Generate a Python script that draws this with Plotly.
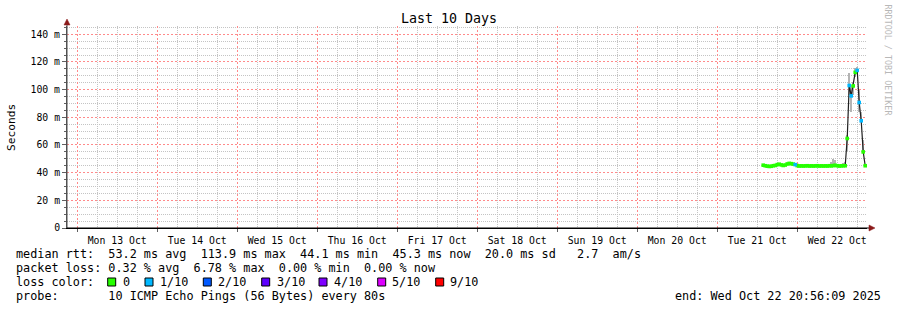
import plotly.graph_objects as go
import pandas as pd

# ---------------- data ----------------
title_text = "Last 10 Days"
end_time = "2025-10-22 20:56:09"
first_sample = "2025-10-21 13:48:00"
sample_step_min = 36

median_ms = [
    45.4, 45.0, 44.7, 44.5, 44.6, 45.0, 45.2, 45.8, 46.1, 45.6,
    45.2, 45.5, 46.3, 46.7, 46.5, 46.2, 45.8, 45.1, 44.8, 44.9,
    44.8, 44.9, 45.0, 44.8, 44.9, 44.8, 44.9, 45.0, 44.8, 44.9,
    44.8, 44.9, 44.8, 45.0, 44.9, 45.1, 45.3, 45.0, 44.8, 44.9,
    45.0,
    45.0, 64.7, 103.0, 95.5, 102.7, 112.5, 113.9, 90.7, 77.5, 55.0, 45.0,
]
loss_idx = [
    0, 0, 0, 0, 0, 0, 0, 0, 0, 0,
    0, 0, 0, 0, 0, 0, 1, 0, 0, 0,
    0, 0, 0, 0, 0, 0, 0, 0, 0, 0,
    0, 0, 0, 0, 0, 0, 0, 0, 0, 0,
    0,
    0, 0, 1, 1, 0, 0, 1, 1, 1, 0, 0,
]
smoke_lo = [
    44.6, 44.3, 44.0, 43.8, 43.9, 44.3, 44.5, 45.0, 45.3, 44.8,
    44.4, 44.7, 45.4, 45.8, 45.6, 45.3, 44.9, 44.3, 44.1, 44.2,
    44.1, 44.2, 44.3, 44.1, 44.2, 44.1, 44.2, 44.3, 44.1, 44.2,
    44.1, 44.2, 44.1, 44.3, 44.2, 44.3, 44.4, 44.2, 44.1, 44.2,
    44.2,
    44.0, 56.0, 96.0, 84.0, 96.0, 109.0, 113.0, 84.0, 76.7, 54.0, 44.0,
]
smoke_hi = [
    46.3, 46.0, 45.6, 45.4, 45.5, 45.9, 46.1, 46.7, 47.0, 46.5,
    46.1, 46.4, 47.2, 47.6, 47.4, 47.1, 46.7, 46.0, 45.7, 45.8,
    45.7, 45.8, 45.9, 45.7, 45.8, 45.7, 45.8, 45.9, 45.7, 45.8,
    45.7, 45.8, 45.8, 46.2, 47.5, 49.6, 48.8, 46.0, 45.7, 46.3,
    47.0,
    48.0, 67.0, 112.0, 103.0, 105.6, 115.5, 116.5, 99.6, 84.0, 63.5, 46.0,
]

loss_labels = ["0", "1/10", "2/10", "3/10", "4/10", "5/10", "9/10"]
loss_colors = ["#26ff00", "#00b8ff", "#0059ff", "#5e00ff", "#7e00ff", "#dd00ff", "#ff0000"]

day_labels = ["Mon 13 Oct", "Tue 14 Oct", "Wed 15 Oct", "Thu 16 Oct", "Fri 17 Oct",
              "Sat 18 Oct", "Sun 19 Oct", "Mon 20 Oct", "Tue 21 Oct", "Wed 22 Oct"]
first_label_day = "2025-10-13"

y_tickvals = [0, 20, 40, 60, 80, 100, 120, 140]
y_ticktext = ["0", "20 m", "40 m", "60 m", "80 m", "100 m", "120 m", "140 m"]

legend_line1 = "median rtt:  53.2 ms avg  113.9 ms max  44.1 ms min  45.3 ms now  20.0 ms sd   2.7  am/s"
legend_line2 = "packet loss: 0.32 % avg  6.78 % max  0.00 % min  0.00 % now"
legend_line3 = "loss color:"
legend_line4 = "probe:       10 ICMP Echo Pings (56 Bytes) every 80s"
end_label = "end: Wed Oct 22 20:56:09 2025"
watermark = "RRDTOOL / TOBI OETIKER"

# ---------------- geometry helpers (pixels -> paper) ----------------
L, R, T, B = 67, 867, 26, 228
W, H = R - L, B - T


def fx(px):
    return (px - L) / W


def fy(py):
    return (B - py) / H


def nb(s):
    return s.replace(" ", "\u00a0")


MONO = "DejaVu Sans Mono"
TXT = 11.8
MAJOR_GRID = "#ff8a8a"
MAJOR_DASH = "2px,2px"
MINOR_GRID = "#c4c4c4"
MINOR_DASH = "1px,1px"

end_ts = pd.Timestamp(end_time)
start_ts = end_ts - pd.Timedelta(days=10)
t0 = pd.Timestamp(first_sample)
times = [t0 + pd.Timedelta(minutes=sample_step_min * i) for i in range(len(median_ms))]

# tick / grid positions
d0 = pd.Timestamp(first_label_day)
midnights = [d0 + pd.Timedelta(days=i) for i in range(len(day_labels))]
noons = [m + pd.Timedelta(hours=12) for m in midnights]
day0 = start_ts.normalize()
minor_x = []
for d in range(12):
    for h in (6, 12, 18):
        tt = day0 + pd.Timedelta(days=d, hours=h)
        if start_ts <= tt <= end_ts:
            minor_x.append(tt)
minor_y = [v for v in range(5, 146, 5) if v % 20 != 0]

fig = go.Figure()

fig.add_trace(go.Bar(
    x=times,
    y=[h - l for h, l in zip(smoke_hi, smoke_lo)],
    base=smoke_lo,
    width=sample_step_min * 60 * 1000,
    marker=dict(color="#b4b4b4", line=dict(width=0)),
    hoverinfo="skip",
))
fig.add_trace(go.Scatter(
    x=times, y=median_ms, mode="lines",
    line=dict(color="#202020", width=1.2),
    hoverinfo="skip",
))
for k, col in enumerate(loss_colors):
    xs = [t for t, li in zip(times, loss_idx) if li == k]
    ys = [v for v, li in zip(median_ms, loss_idx) if li == k]
    if not xs:
        continue
    fig.add_trace(go.Scatter(
        x=xs, y=ys, mode="markers", xaxis="x2",
        marker=dict(symbol="square", size=3.6, color=col, line=dict(width=0)),
        hoverinfo="skip",
    ))

fig.update_layout(
    xaxis=dict(
        type="date",
        range=[start_ts, end_ts],
        tickmode="array", tickvals=midnights, showticklabels=False,
        ticks="outside", ticklen=3, tickcolor="#606060",
        showgrid=True, gridcolor=MAJOR_GRID, griddash=MAJOR_DASH, gridwidth=1,
        minor=dict(tickmode="array", tickvals=minor_x, showgrid=True,
                   gridcolor=MINOR_GRID, griddash=MINOR_DASH, gridwidth=1),
        showline=True, linecolor="#000000", linewidth=1,
        zeroline=False, fixedrange=True,
    ),
    xaxis2=dict(
        type="date", overlaying="x", matches="x", anchor="y", side="bottom",
        range=[start_ts, end_ts],
        tickmode="array", tickvals=noons, ticktext=day_labels,
        tickfont=dict(family=MONO, size=9.8, color="#000000"),
        ticks="outside", ticklen=3, tickcolor="rgba(0,0,0,0)",
        showgrid=False, showline=False, zeroline=False, fixedrange=True,
    ),
    yaxis=dict(
        range=[0, 146],
        tickmode="array", tickvals=y_tickvals, ticktext=y_ticktext,
        tickfont=dict(family=MONO, size=9.8, color="#000000"),
        ticks="outside", ticklen=4, tickcolor="#606060",
        showgrid=True, gridcolor=MAJOR_GRID, griddash=MAJOR_DASH, gridwidth=1,
        minor=dict(tickmode="array", tickvals=minor_y, showgrid=True,
                   gridcolor=MINOR_GRID, griddash=MINOR_DASH, gridwidth=1,
                   ticks="outside", ticklen=2, tickcolor="#606060"),
        showline=True, linecolor="#505050", linewidth=1,
        zeroline=False, fixedrange=True,
    ),
)

annotations = []
annotations.append(dict(text=title_text, x=fx(448.5), y=fy(19), xref="paper", yref="paper",
                        xanchor="center", yanchor="middle", showarrow=False,
                        font=dict(family=MONO, size=13.3, color="#000000")))
annotations.append(dict(text="Seconds", x=fx(11), y=fy(127), xref="paper", yref="paper",
                        xanchor="center", yanchor="middle", showarrow=False, textangle=-90,
                        font=dict(family=MONO, size=11.2, color="#000000")))
annotations.append(dict(text=watermark, x=fx(887.5), y=fy(60), xref="paper", yref="paper",
                        xanchor="center", yanchor="middle", showarrow=False, textangle=90,
                        font=dict(family=MONO, size=8.4, color="#b8b8b8")))
for txt, py in [(legend_line1, 254), (legend_line2, 268), (legend_line3, 282), (legend_line4, 296)]:
    annotations.append(dict(text=nb(txt), x=fx(14), y=fy(py), xref="paper", yref="paper",
                            xanchor="left", yanchor="middle", showarrow=False,
                            font=dict(family=MONO, size=TXT, color="#000000")))
annotations.append(dict(text=nb(end_label), x=fx(883), y=fy(296), xref="paper", yref="paper",
                        xanchor="right", yanchor="middle", showarrow=False,
                        font=dict(family=MONO, size=TXT, color="#000000")))

square_px = [107.7, 145, 203.3, 261.7, 319, 377.7, 435.7]
label_px = [122.7, 160, 217.7, 276.7, 334, 391.7, 450]
shapes = []
for lab, col, sx, lx in zip(loss_labels, loss_colors, square_px, label_px):
    shapes.append(dict(type="rect", xref="paper", yref="paper",
                       x0=fx(sx), x1=fx(sx + 8), y0=fy(278), y1=fy(286),
                       fillcolor=col, line=dict(color="#000000", width=1)))
    annotations.append(dict(text=lab, x=fx(lx - 2), y=fy(282), xref="paper", yref="paper",
                            xanchor="left", yanchor="middle", showarrow=False,
                            font=dict(family=MONO, size=TXT, color="#000000")))

shapes.append(dict(type="line", xref="paper", yref="paper", x0=fx(67), x1=fx(67), y0=fy(228), y1=fy(22),
                   line=dict(color="#505050", width=1)))
shapes.append(dict(type="line", xref="paper", yref="paper", x0=fx(67), x1=fx(870), y0=fy(228), y1=fy(228),
                   line=dict(color="#000000", width=1)))
shapes.append(dict(type="path", xref="paper", yref="paper",
                   path=f"M {fx(64)},{fy(25)} L {fx(70)},{fy(25)} L {fx(67)},{fy(19)} Z",
                   fillcolor="#8b1a1a", line=dict(color="#8b1a1a", width=0.5)))
shapes.append(dict(type="path", xref="paper", yref="paper",
                   path=f"M {fx(869)},{fy(225)} L {fx(869)},{fy(231)} L {fx(875)},{fy(228)} Z",
                   fillcolor="#8b1a1a", line=dict(color="#8b1a1a", width=0.5)))

fig.update_layout(
    width=897, height=310,
    margin=dict(l=L, r=897 - R, t=T, b=310 - B),
    paper_bgcolor="#ffffff", plot_bgcolor="#ffffff",
    showlegend=False, barmode="overlay", bargap=0,
    annotations=annotations, shapes=shapes,
    font=dict(family=MONO),
)

fig.write_html("out.html", config={"displayModeBar": False})
